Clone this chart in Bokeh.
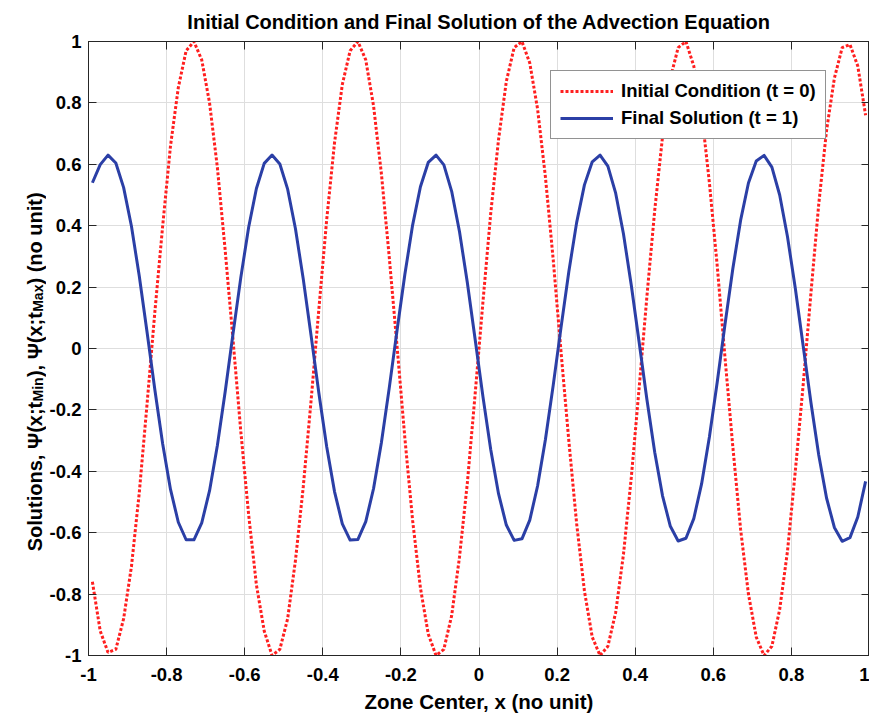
import numpy as np
from bokeh.plotting import figure
from bokeh.layouts import row
from bokeh.core.properties import value
from bokeh.models import (Range1d, FixedTicker, LinearAxis, Legend,
                          LegendItem, CustomJSTickFormatter)
from bokeh.embed import file_html
from bokeh.resources import INLINE

# ---------------- data ----------------
x_centers = [
    -0.99, -0.97, -0.95, -0.93, -0.91, -0.89, -0.87, -0.85, -0.83, -0.81,
    -0.79, -0.77, -0.75, -0.73, -0.71, -0.69, -0.67, -0.65, -0.63, -0.61,
    -0.59, -0.57, -0.55, -0.53, -0.51, -0.49, -0.47, -0.45, -0.43, -0.41,
    -0.39, -0.37, -0.35, -0.33, -0.31, -0.29, -0.27, -0.25, -0.23, -0.21,
    -0.19, -0.17, -0.15, -0.13, -0.11, -0.09, -0.07, -0.05, -0.03, -0.01,
    0.01, 0.03, 0.05, 0.07, 0.09, 0.11, 0.13, 0.15, 0.17, 0.19,
    0.21, 0.23, 0.25, 0.27, 0.29, 0.31, 0.33, 0.35, 0.37, 0.39,
    0.41, 0.43, 0.45, 0.47, 0.49, 0.51, 0.53, 0.55, 0.57, 0.59,
    0.61, 0.63, 0.65, 0.67, 0.69, 0.71, 0.73, 0.75, 0.77, 0.79,
    0.81, 0.83, 0.85, 0.87, 0.89, 0.91, 0.93, 0.95, 0.97, 0.99,
]

initial_condition = [
    -0.76, -0.92, -0.99, -0.98, -0.88, -0.71, -0.47, -0.18, 0.12, 0.40,
    0.66, 0.85, 0.97, 1.00, 0.94, 0.80, 0.59, 0.32, 0.03, -0.27,
    -0.54, -0.77, -0.92, -1.00, -0.98, -0.88, -0.69, -0.45, -0.17, 0.13,
    0.42, 0.67, 0.86, 0.97, 1.00, 0.94, 0.79, 0.57, 0.30, 0.01,
    -0.29, -0.56, -0.78, -0.93, -1.00, -0.98, -0.87, -0.68, -0.44, -0.15,
    0.15, 0.44, 0.68, 0.87, 0.98, 1.00, 0.93, 0.78, 0.56, 0.29,
    -0.01, -0.30, -0.57, -0.79, -0.94, -1.00, -0.97, -0.86, -0.67, -0.42,
    -0.13, 0.17, 0.45, 0.69, 0.88, 0.98, 1.00, 0.92, 0.77, 0.54,
    0.27, -0.03, -0.32, -0.59, -0.80, -0.94, -1.00, -0.97, -0.85, -0.66,
    -0.40, -0.12, 0.18, 0.47, 0.71, 0.88, 0.98, 0.99, 0.92, 0.76,
]

final_solution = [
    0.540, 0.599, 0.630, 0.604, 0.524, 0.398, 0.236, 0.053, -0.135, -0.311,
    -0.459, -0.566, -0.623, -0.623, -0.568, -0.463, -0.316, -0.141, 0.047, 0.231,
    0.394, 0.521, 0.603, 0.630, 0.601, 0.519, 0.390, 0.226, 0.042, -0.146,
    -0.320, -0.466, -0.571, -0.624, -0.622, -0.564, -0.456, -0.307, -0.130, 0.058,
    0.240, 0.402, 0.527, 0.606, 0.630, 0.598, 0.512, 0.381, 0.216, 0.031,
    -0.156, -0.329, -0.473, -0.575, -0.625, -0.620, -0.559, -0.448, -0.297, -0.120,
    0.068, 0.250, 0.410, 0.533, 0.608, 0.630, 0.594, 0.506, 0.373, 0.206,
    0.021, -0.166, -0.338, -0.480, -0.579, -0.627, -0.618, -0.554, -0.441, -0.288,
    -0.110, 0.079, 0.260, 0.418, 0.539, 0.611, 0.629, 0.591, 0.500, 0.364,
    0.196, 0.010, -0.176, -0.347, -0.487, -0.583, -0.628, -0.616, -0.549, -0.433,
]

x_ticks = [-1.0, -0.8, -0.6, -0.4, -0.2, 0.0, 0.2, 0.4, 0.6, 0.8, 1.0]
x_tick_labels = ["-1", "-0.8", "-0.6", "-0.4", "-0.2", "0", "0.2", "0.4", "0.6", "0.8", "1"]
y_ticks = [-1.0, -0.8, -0.6, -0.4, -0.2, 0.0, 0.2, 0.4, 0.6, 0.8, 1.0]
y_tick_labels = ["-1", "-0.8", "-0.6", "-0.4", "-0.2", "0", "0.2", "0.4", "0.6", "0.8", "1"]

series_labels = ["Initial Condition (t = 0)", "Final Solution (t = 1)"]
title_text = "Initial Condition and Final Solution of the Advection Equation"
x_label = "Zone Center, x (no unit)"
y_label_pieces = [("Solutions, \u03a8(x;t", False), ("Min", True),
                  ("), \u03a8(x;t", False), ("Max", True), (") (no unit)", False)]

# ---------------- styling ----------------
FONT = "Liberation Sans"
AX = "#262626"
RED = "#ff1f1f"
BLUE = "#2b3fa6"

H = 717
LW = 46                      # width of the strip holding the y label
W = 869 - LW
B_LEFT, B_RIGHT, B_TOP, B_BOTTOM = 40, 0, 38, 62

p = figure(width=W, height=H, output_backend="svg", toolbar_location=None,
           x_range=Range1d(-1, 1), y_range=Range1d(-1, 1),
           min_border_left=B_LEFT, min_border_right=B_RIGHT,
           min_border_top=B_TOP, min_border_bottom=B_BOTTOM,
           title=title_text)
p.background_fill_color = "white"
p.border_fill_color = "white"
p.outline_line_color = AX
p.outline_line_width = 1

p.title.align = "center"
p.title.text_font = FONT
p.title.text_font_size = "20px"
p.title.text_font_style = "bold"
p.title.text_color = "#000000"
p.title.standoff = 17

def style_axis(ax):
    ax.axis_line_color = AX
    ax.major_tick_line_color = AX
    ax.major_tick_in = 8
    ax.major_tick_out = 0
    ax.minor_tick_in = 0
    ax.minor_tick_out = 0
    ax.minor_tick_line_color = None
    ax.major_label_text_font = FONT
    ax.major_label_text_font_size = "18.5px"
    ax.major_label_text_font_style = "bold"
    ax.major_label_text_color = "#000000"

xa = p.xaxis[0]
style_axis(xa)
xa.ticker = FixedTicker(ticks=x_ticks)
xa.major_label_overrides = dict(zip(x_ticks, x_tick_labels))
xa.major_label_standoff = 12
xa.axis_label = x_label
xa.axis_label_text_font = FONT
xa.axis_label_text_font_size = "20.5px"
xa.axis_label_text_font_style = "bold"
xa.axis_label_text_color = "#000000"
xa.axis_label_standoff = 6

ya = p.yaxis[0]
style_axis(ya)
ya.ticker = FixedTicker(ticks=y_ticks)
ya.major_label_overrides = dict(zip(y_ticks, y_tick_labels))
ya.major_label_standoff = 7

top_axis = LinearAxis(ticker=FixedTicker(ticks=x_ticks),
                      formatter=CustomJSTickFormatter(code="return ''"))
style_axis(top_axis)
top_axis.major_label_text_font_size = "0px"
top_axis.major_label_standoff = 0
p.add_layout(top_axis, "above")

right_axis = LinearAxis(ticker=FixedTicker(ticks=y_ticks),
                        formatter=CustomJSTickFormatter(code="return ''"))
style_axis(right_axis)
right_axis.major_label_text_font_size = "0px"
right_axis.major_label_standoff = 0
p.add_layout(right_axis, "right")

p.xgrid.ticker = FixedTicker(ticks=x_ticks)
p.ygrid.ticker = FixedTicker(ticks=y_ticks)
p.grid.grid_line_color = "#dedede"
p.grid.grid_line_width = 1

r_init = p.line(x_centers, initial_condition, line_color=RED, line_width=3,
                line_dash="3 2", line_cap="butt")
r_final = p.line(x_centers, final_solution, line_color=BLUE, line_width=3,
                 line_join="round")

legend = Legend(items=[LegendItem(label=series_labels[0], renderers=[r_init]),
                       LegendItem(label=series_labels[1], renderers=[r_final])],
                location=(462, 516))
legend.label_text_font = FONT
legend.label_text_font_size = "18.5px"
legend.label_text_font_style = "bold"
legend.label_text_color = "#000000"
legend.glyph_width = 53
legend.glyph_height = 22
legend.label_height = 22
legend.label_standoff = 8
legend.padding = 9
legend.spacing = 5
legend.margin = 0
legend.border_line_color = AX
legend.border_line_width = 1
legend.background_fill_color = "white"
legend.background_fill_alpha = 1.0
p.add_layout(legend)

# ---------------- y-axis label strip (text with subscripts) ----------------
ADV = {"S": 667, "o": 611, "l": 278, "u": 611, "t": 333, "i": 278, "n": 611,
       "s": 556, ",": 278, " ": 278, "\u03a8": 834, "(": 333, ")": 333,
       "x": 556, ";": 333, "M": 833, "a": 556}

def text_width(s, size):
    return sum(ADV.get(c, 600) for c in s) * size / 1000.0

ylab = figure(frame_width=LW, frame_height=H, output_backend="svg",
              toolbar_location=None, title=None,
              x_range=Range1d(0, LW), y_range=Range1d(0, H),
              x_axis_type=None, y_axis_type=None,
              min_border_left=0, min_border_right=0, min_border_top=0,
              min_border_bottom=0)
ylab.outline_line_color = None
ylab.background_fill_color = "white"
ylab.border_fill_color = "white"

MAIN_SIZE, SUB_SIZE = 20, 14
main_center_x = 34.0        # centre line of the main text
sub_center_x = 37.5         # subscripts sit lower (towards the frame)
pos = 207.0                 # start of the label, px above the strip bottom
for txt, is_sub in y_label_pieces:
    size = SUB_SIZE if is_sub else MAIN_SIZE
    w = text_width(txt, size)
    ylab.text(x=[sub_center_x if is_sub else main_center_x], y=[pos + w / 2],
              text=[txt], angle=np.pi / 2, text_font=value(FONT),
              text_font_size=value(f"{size}px"), text_font_style="bold",
              text_color="#000000", text_align="center",
              text_baseline="middle")
    pos += w

layout = row(ylab, p, spacing=0)
open("out.html", "w").write(file_html(layout, INLINE))
